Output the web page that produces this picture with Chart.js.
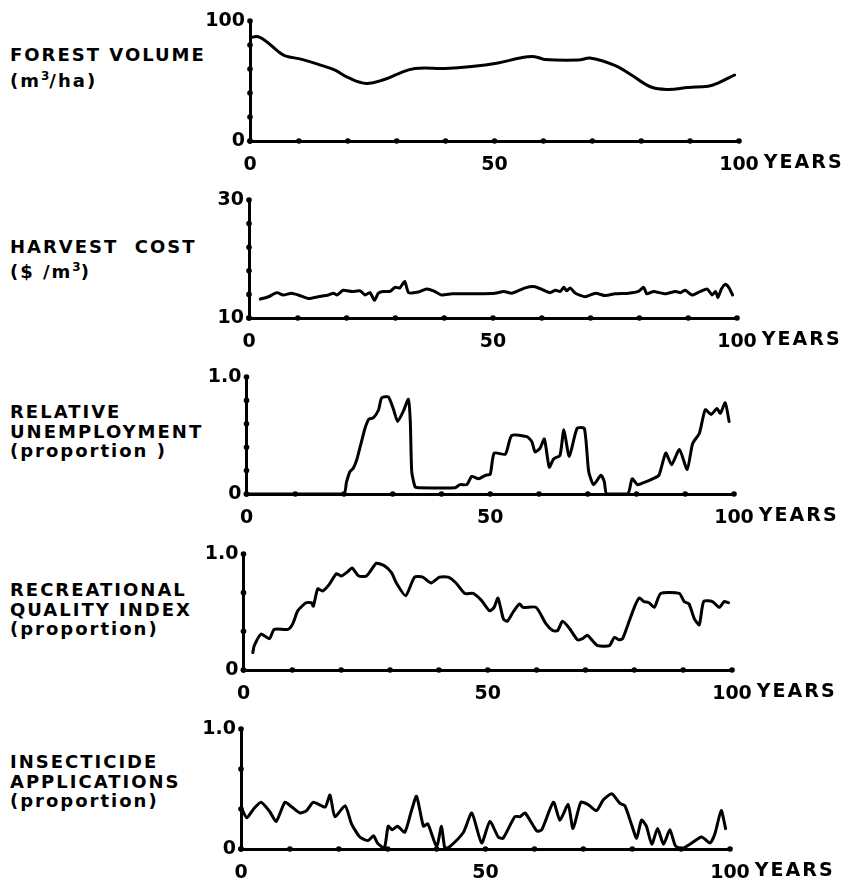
<!DOCTYPE html>
<html>
<head>
<meta charset="utf-8">
<script src="https://cdn.jsdelivr.net/npm/chart.js@4.4.1/dist/chart.umd.min.js"></script>
<style>
  html, body { margin: 0; padding: 0; background: #fff; }
  body { width: 847px; height: 884px; position: relative; overflow: hidden; font-family: 'DejaVu Sans', sans-serif; }
  canvas.panel { position: absolute; left: 0; }
  .title { position: absolute; left: 10px; font-size: 18px; font-weight: bold; letter-spacing: 2px; color: #000; white-space: nowrap; }
  .title sup { font-size: 12px; letter-spacing: 0; line-height: 0; }
</style>
</head>
<body>

<div class="title" style="top:42px; line-height:26px;">FOREST VOLUME<br>(m<sup>3</sup>/ha)</div>
<div class="title" style="top:234px; line-height:25px;">HARVEST&nbsp; COST<br>($ /m<sup>3</sup>)</div>
<div class="title" style="top:402px; line-height:19.5px;">RELATIVE<br>UNEMPLOYMENT<br>(proportion )</div>
<div class="title" style="top:580px; line-height:19.5px;">RECREATIONAL<br>QUALITY INDEX<br>(proportion)</div>
<div class="title" style="top:752px; line-height:19.5px;">INSECTICIDE<br>APPLICATIONS<br>(proportion)</div>

<canvas class="panel" id="forest"></canvas>
<canvas class="panel" id="cost"></canvas>
<canvas class="panel" id="unemp"></canvas>
<canvas class="panel" id="recr"></canvas>
<canvas class="panel" id="insect"></canvas>

<script>
// ---- data ----
const yearTicks  = [0, 10, 20, 30, 40, 50, 60, 70, 80, 90, 100];
const yearLabels = ['0', '', '', '', '', '50', '', '', '', '', '100'];

// forest volume (m3/ha)
const forestYears  = [0, 1.5, 3, 5.8, 7.2, 10.6, 14.6, 17.4, 20, 23.8, 27.6, 30.3, 33.7, 39.9, 45.3, 50.7, 55.5, 58.2, 60.3, 67.1, 69.8, 74.6, 78, 82, 85.5, 89.6, 93.7, 95.8, 99.1];
const forestVolume = [86, 87, 84, 74.5, 71, 68, 63, 59, 53, 48, 51.5, 56, 60.5, 60.5, 62, 65, 69.4, 70.3, 68, 67.5, 69, 63, 55, 45, 43, 44.6, 45.7, 48.5, 55];
const forestYTicks  = [0, 20, 40, 60, 80, 100];
const forestYLabels = ['0', '', '', '', '', '100'];

// harvest cost ($/m3)
const costYears = [2.3, 4, 5.7, 7, 8.7, 10.1, 12.2, 14.2, 16.3, 17.3, 18, 19.3, 21.1, 22.8, 23.8, 24.8, 25.7, 26.5, 27.5, 28.9, 29.9, 30.9, 31.9, 32.7, 34.7, 36.4, 37.8, 39.5, 41.6, 47, 50.4, 52.2, 53.9, 56.6, 58.6, 60.4, 61.7, 62.8, 63.8, 64.5, 65.1, 65.8, 66.9, 68.9, 71, 73, 75, 77.8, 79.8, 80.9, 81.5, 82.9, 85.3, 87.4, 88.4, 89.4, 90.8, 92.5, 93.9, 94.9, 95.6, 96.1, 96.8, 97.6, 98.3, 99.1];
const costValues = [13.2, 13.6, 14.3, 13.9, 14.2, 13.9, 13.3, 13.6, 13.9, 14.2, 13.9, 14.7, 14.5, 14.6, 13.9, 14.3, 13.0, 14.2, 14.5, 14.5, 15.2, 15.1, 16.2, 14.3, 14.4, 14.9, 14.6, 13.9, 14.1, 14.1, 14.2, 14.5, 14.2, 15.1, 15.3, 14.7, 14.3, 14.7, 14.5, 15.2, 14.6, 15.1, 14.2, 13.6, 14.2, 13.8, 14.1, 14.2, 14.5, 15.2, 14.1, 14.5, 14.1, 14.5, 14.3, 14.7, 13.9, 14.5, 14.9, 13.9, 14.5, 13.5, 14.9, 15.7, 15.2, 13.9];
const costYTicks  = [10, 14, 18, 22, 26, 30];
const costYLabels = ['10', '', '', '', '', '30'];

// relative unemployment (proportion)
const unempYears  = [0, 19.9, 20.5, 21.2, 21.9, 22.6, 23.3, 24.3, 25.1, 26, 27.1, 27.7, 29.1, 30.1, 31, 32.2, 33.2, 33.6, 33.9, 34.6, 35.3, 42.8, 43.8, 45.2, 46.2, 47.6, 49, 50, 50.8, 53.1, 54.4, 57.5, 58.5, 59.2, 60.2, 61.1, 62.1, 63, 64.3, 65.1, 66.2, 67.8, 69.3, 70.2, 71.2, 72.7, 73.4, 73.9, 78.2, 79.1, 80.2, 81.6, 83.3, 84.6, 86, 87.2, 88.8, 90.4, 91.5, 92.9, 94.1, 95.3, 96.5, 97.2, 98.2, 99];
const unempValues = [0, 0, 0.1, 0.19, 0.22, 0.29, 0.4, 0.56, 0.64, 0.65, 0.72, 0.82, 0.83, 0.73, 0.62, 0.71, 0.81, 0.62, 0.19, 0.06, 0.054, 0.054, 0.08, 0.08, 0.15, 0.13, 0.16, 0.17, 0.35, 0.34, 0.5, 0.49, 0.45, 0.36, 0.39, 0.47, 0.23, 0.3, 0.33, 0.55, 0.32, 0.56, 0.56, 0.19, 0.08, 0.16, 0.105, 0, 0, 0.13, 0.08, 0.1, 0.13, 0.16, 0.35, 0.25, 0.38, 0.21, 0.43, 0.52, 0.72, 0.68, 0.73, 0.69, 0.78, 0.62];
const unempYTicks  = [0, 0.2, 0.4, 0.6, 0.8, 1.0];
const unempYLabels = ['0', '', '', '', '', '1.0'];

// recreational quality index (proportion)
const recrYears  = [1.9, 2.2, 3.6, 5.3, 6.3, 9.1, 10.1, 11.1, 12.8, 13.9, 14.3, 15.2, 16.2, 17.6, 19, 20, 21.4, 22.2, 23.6, 25.1, 26.1, 27.2, 28.8, 30.3, 31.3, 33.2, 35, 36.7, 38.4, 40.1, 41.9, 43.5, 45.3, 47, 48.7, 50.4, 51.3, 52.1, 53.2, 54, 55.2, 56.5, 57.2, 59.9, 61.9, 63.3, 64.3, 65.3, 66.7, 68.4, 69.4, 70.4, 71.5, 72.5, 74.9, 75.9, 76.9, 77.6, 78.6, 80, 81, 82, 83, 84.1, 85.4, 89.2, 90.2, 91.2, 92.3, 93.3, 94.2, 96, 97.4, 98.4, 99.3];
const recrValues = [0.15, 0.21, 0.31, 0.27, 0.35, 0.35, 0.4, 0.51, 0.58, 0.58, 0.55, 0.7, 0.68, 0.74, 0.83, 0.81, 0.85, 0.88, 0.81, 0.81, 0.86, 0.92, 0.9, 0.84, 0.75, 0.64, 0.8, 0.8, 0.75, 0.8, 0.8, 0.75, 0.66, 0.66, 0.6, 0.51, 0.54, 0.62, 0.44, 0.42, 0.5, 0.57, 0.54, 0.54, 0.4, 0.34, 0.34, 0.42, 0.36, 0.26, 0.27, 0.3, 0.25, 0.21, 0.21, 0.28, 0.26, 0.27, 0.38, 0.54, 0.62, 0.59, 0.58, 0.54, 0.66, 0.66, 0.59, 0.57, 0.44, 0.39, 0.59, 0.59, 0.54, 0.59, 0.58];
const thirdsYTicks  = [0, 0.3333, 0.6667, 1.0];
const thirdsYLabels = ['0', '', '', '1.0'];

// insecticide applications (proportion)
const insectYears  = [0.1, 1.2, 2.5, 4.1, 5.9, 7.2, 9, 10.4, 12.1, 13.4, 14.8, 17.2, 18.2, 19.2, 21.3, 22.6, 24.3, 26, 27.1, 27.9, 29.3, 30.1, 30.9, 32, 33.5, 34.8, 35.9, 37.3, 38.2, 40, 41, 41.7, 42.7, 45.5, 47.2, 49.2, 50.9, 52.6, 53.6, 56, 57.1, 58.1, 60.5, 61.5, 63.9, 65.2, 66.9, 67.9, 69.5, 71, 72.7, 74.1, 75.8, 77.5, 78.5, 79.9, 80.9, 81.9, 82.9, 84, 85.2, 86.4, 87.7, 88.8, 90, 91.8, 94.2, 95.9, 96.9, 98.2, 99.1];
const insectValues = [0.34, 0.26, 0.33, 0.39, 0.31, 0.23, 0.39, 0.35, 0.3, 0.32, 0.39, 0.35, 0.45, 0.27, 0.36, 0.21, 0.1, 0.07, 0.11, 0.05, 0.005, 0.19, 0.16, 0.19, 0.14, 0.31, 0.44, 0.19, 0.21, 0.02, 0.19, 0.005, 0.02, 0.14, 0.3, 0.05, 0.23, 0.1, 0.09, 0.27, 0.27, 0.3, 0.15, 0.16, 0.39, 0.24, 0.37, 0.17, 0.39, 0.37, 0.32, 0.41, 0.46, 0.38, 0.36, 0.2, 0.09, 0.24, 0.19, 0.04, 0.17, 0.04, 0.16, 0.03, 0, 0.04, 0.1, 0.05, 0.125, 0.32, 0.17];

// ---- layout: plot box of each panel in page pixels ----
const TOP_PAD = 20;   // room above plot for the top tick label
const X_AXIS_H = 44;  // room below plot for year labels
const X_LABEL_PAD = 13;
const TICK_FONT = { family: "'DejaVu Sans', sans-serif", size: 19, weight: 'bold' };

const panels = [
  { id: 'forest', box: { top: 21,  bottom: 141, left: 250,   right: 739 }, years: forestYears, values: forestVolume, yMin: 0,  yMax: 100, yTicks: forestYTicks, yLabels: forestYLabels, tension: 0.4 },
  { id: 'cost',   box: { top: 200, bottom: 318, left: 249,   right: 737 }, years: costYears,   values: costValues,   yMin: 10, yMax: 30,  yTicks: costYTicks,   yLabels: costYLabels,   tension: 0.2 },
  { id: 'unemp',  box: { top: 377, bottom: 494, left: 246.5, right: 734 }, years: unempYears,  values: unempValues,  yMin: 0,  yMax: 1,   yTicks: unempYTicks,  yLabels: unempYLabels,  tension: 0.2 },
  { id: 'recr',   box: { top: 554, bottom: 670, left: 243.5, right: 732 }, years: recrYears,   values: recrValues,   yMin: 0,  yMax: 1,   yTicks: thirdsYTicks, yLabels: thirdsYLabels, tension: 0.2 },
  { id: 'insect', box: { top: 729, bottom: 849, left: 241,   right: 730 }, years: insectYears, values: insectValues, yMin: 0,  yMax: 1,   yTicks: thirdsYTicks, yLabels: thirdsYLabels, tension: 0.2 },
];

Chart.defaults.font = TICK_FONT;
Chart.defaults.color = '#000';

// little dots on the axes at each tick, plus the "YEARS" word after 100
const axisMarks = {
  id: 'axisMarks',
  afterDraw(chart) {
    const { ctx, scales: { x, y } } = chart;
    ctx.save();
    ctx.fillStyle = '#000';
    x.ticks.forEach(t => {
      ctx.beginPath();
      ctx.arc(x.getPixelForValue(t.value), x.top, 2.8, 0, Math.PI * 2);
      ctx.fill();
    });
    y.ticks.forEach(t => {
      ctx.beginPath();
      ctx.arc(y.right, y.getPixelForValue(t.value), 2.8, 0, Math.PI * 2);
      ctx.fill();
    });
    ctx.font = "bold 19px 'DejaVu Sans', sans-serif";
    const half100 = ctx.measureText('100').width / 2;
    ctx.letterSpacing = '2px';
    ctx.textAlign = 'left';
    ctx.textBaseline = 'top';
    ctx.fillText('YEARS', x.getPixelForValue(100) + half100 + 5, x.top + X_LABEL_PAD);
    ctx.restore();
  }
};

function makePanel(p) {
  const b = p.box;
  const canvas = document.getElementById(p.id);
  canvas.width = 847;
  canvas.height = (b.bottom - b.top) + TOP_PAD + X_AXIS_H;
  canvas.style.top = (b.top - TOP_PAD) + 'px';

  return new Chart(canvas, {
    type: 'line',
    data: {
      datasets: [{
        data: p.years.map((yr, i) => ({ x: yr, y: p.values[i] })),
        borderColor: '#000',
        borderWidth: 3,
        borderJoinStyle: 'round',
        borderCapStyle: 'round',
        pointRadius: 0,
        tension: p.tension,
        fill: false,
      }],
    },
    options: {
      responsive: false,
      animation: false,
      events: [],
      layout: { padding: { top: TOP_PAD, right: 847 - b.right, bottom: 0, left: 0 } },
      plugins: { legend: { display: false }, tooltip: { enabled: false } },
      scales: {
        x: {
          type: 'linear',
          min: 0,
          max: 100,
          afterBuildTicks: (s) => { s.ticks = yearTicks.map(v => ({ value: v })); },
          afterFit: (s) => { s.height = X_AXIS_H; },
          grid: { display: false, drawTicks: false },
          border: { display: true, color: '#000', width: 3 },
          ticks: {
            autoSkip: false,
            maxRotation: 0,
            padding: X_LABEL_PAD,
            callback: (v, i) => yearLabels[i],
          },
        },
        y: {
          type: 'linear',
          min: p.yMin,
          max: p.yMax,
          afterBuildTicks: (s) => { s.ticks = p.yTicks.map(v => ({ value: v })); },
          afterFit: (s) => { s.width = b.left; },
          grid: { display: false, drawTicks: false },
          border: { display: true, color: '#000', width: 3 },
          ticks: {
            autoSkip: false,
            padding: 5,
            callback: (v, i) => p.yLabels[i],
          },
        },
      },
    },
    plugins: [axisMarks],
  });
}

panels.forEach(makePanel);
</script>
</body>
</html>
